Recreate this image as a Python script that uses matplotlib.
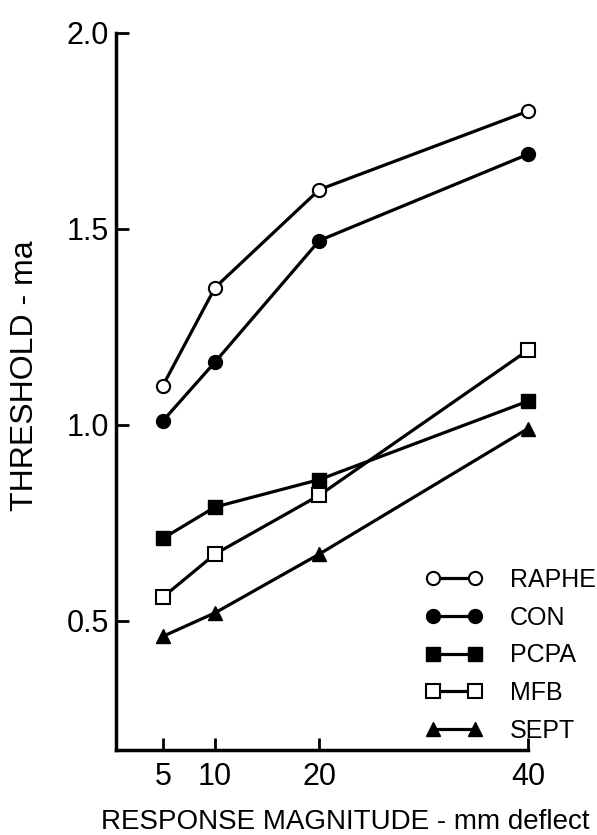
import matplotlib
matplotlib.use('Agg')
import matplotlib.pyplot as plt

plt.rcParams['font.family'] = ['Liberation Sans', 'DejaVu Sans']

# response magnitude (mm deflection)
x = [5, 10, 20, 40]

# threshold (ma)
raphe = [1.10, 1.35, 1.60, 1.80]
con = [1.01, 1.16, 1.47, 1.69]
pcpa = [0.71, 0.79, 0.86, 1.06]
mfb = [0.56, 0.67, 0.82, 1.19]
sept = [0.46, 0.52, 0.67, 0.99]

x_ticks = [5, 10, 20, 40]
y_ticks = [0.5, 1.0, 1.5, 2.0]
y_tick_labels = ['0.5', '1.0', '1.5', '2.0']

fig = plt.figure(figsize=(5.97, 8.35), dpi=100)
ax = fig.add_axes([0.1943, 0.1018, 0.690, 0.8589])

lw = 2.3
ax.plot(x, raphe, '-o', color='black', lw=lw, ms=9.5, mfc='white', mec='black', mew=1.5, label='RAPHE', clip_on=False)
ax.plot(x, con, '-o', color='black', lw=lw, ms=10, label='CON', clip_on=False)
ax.plot(x, pcpa, '-s', color='black', lw=lw, ms=9.5, label='PCPA', clip_on=False)
ax.plot(x, mfb, '-s', color='black', lw=lw, ms=9.5, mfc='white', mec='black', mew=1.5, label='MFB', clip_on=False)
ax.plot(x, sept, '-^', color='black', lw=lw, ms=10, label='SEPT', clip_on=False)

ax.set_xlim(0.5, 40)
ax.set_ylim(0.17, 2.0)
ax.set_xticks(x_ticks)
ax.set_xticklabels([str(v) for v in x_ticks])
ax.set_yticks(y_ticks)
ax.set_yticklabels(y_tick_labels)

for side in ['top', 'right']:
    ax.spines[side].set_visible(False)
for side in ['left', 'bottom']:
    ax.spines[side].set_linewidth(2.5)

ax.tick_params(axis='both', direction='in', length=9, width=2, labelsize=22)
ax.tick_params(axis='x', pad=9)
ax.tick_params(axis='y', pad=5)

fig.text(0.042, 0.55, 'THRESHOLD - ma', rotation=90, ha='center', va='center', fontsize=23)
fig.text(0.578, 0.007, 'RESPONSE MAGNITUDE - mm deflect', ha='center', va='baseline', fontsize=20)

ax.legend(loc='upper left', bbox_to_anchor=(0.691, 0.335), bbox_transform=fig.transFigure,
          frameon=False, fontsize=18, numpoints=2, handlelength=2.3, handletextpad=1.1,
          labelspacing=0.55, borderpad=0)

fig.savefig('out.png', dpi=100)
